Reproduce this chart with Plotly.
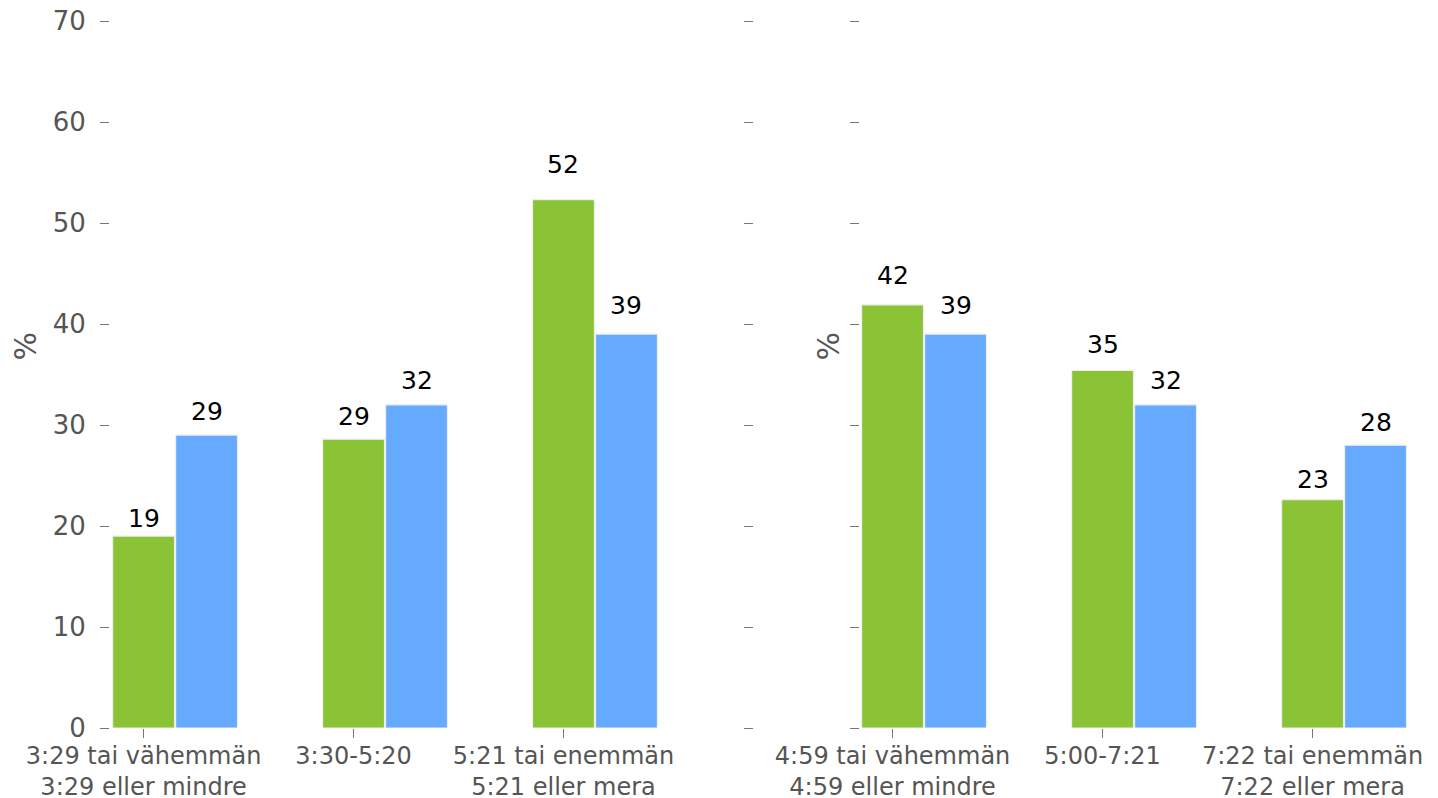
import plotly.graph_objects as go

categories_left = ["3:29 tai vähemmän<br>3:29 eller mindre", "3:30-5:20", "5:21 tai enemmän<br>5:21 eller mera"]
categories_right = ["4:59 tai vähemmän<br>4:59 eller mindre", "5:00-7:21", "7:22 tai enemmän<br>7:22 eller mera"]
green_left = [19.0, 28.6, 52.3]
blue_left = [29.0, 32.0, 39.0]
green_right = [41.9, 35.4, 22.6]
blue_right = [39.0, 32.0, 28.0]
y_ticks = [0, 10, 20, 30, 40, 50, 60, 70]

GREEN = "#8BC337"
BLUE = "#66AAFF"
TXT = "#555555"
FONT = "DejaVu Sans"
OFS = 8  # default page body margin
W = 1438 - OFS
H = 798 - OFS
BW = 0.295
OFF = 0.3
LABEL_LIFT = 1.05

def px(x):
    return (x - OFS) / W

def py(y):
    return 1 - (y - OFS) / H

fig = go.Figure()

def add_group(cats, g, b, xa, ya):
    pos = list(range(len(cats)))
    fig.add_trace(go.Bar(x=pos, y=g, width=BW, marker=dict(color=GREEN, line=dict(color="#eeeeee", width=1.2)),
                         xaxis=xa, yaxis=ya, showlegend=False, hoverinfo="y"))
    fig.add_trace(go.Bar(x=[p + OFF for p in pos], y=b, width=BW, marker=dict(color=BLUE, line=dict(color="#eeeeee", width=1.2)),
                         xaxis=xa, yaxis=ya, showlegend=False, hoverinfo="y"))
    for xs, vals in ((pos, g), ([p + OFF for p in pos], b)):
        for p, v in zip(xs, vals):
            fig.add_annotation(x=p, y=v * LABEL_LIFT, xref=xa, yref=ya, text=f"{v:.0f}", showarrow=False,
                               xanchor="center", yanchor="bottom", yshift=-8,
                               font=dict(family=FONT, size=25, color="black"))

add_group(categories_left, green_left, blue_left, "x", "y")
add_group(categories_right, green_right, blue_right, "x2", "y2")

axis_common = dict(showgrid=False, zeroline=False, showline=False, ticks="outside", ticklen=9,
                   tickcolor="#777777", tickwidth=1, automargin=False, ticklabeloverflow="allow")
xfont = dict(family=FONT, size=24, color=TXT)
yfont = dict(family=FONT, size=26, color=TXT)

fig.update_layout(
    width=W, height=H, barmode="overlay", plot_bgcolor="white", paper_bgcolor="white",
    margin=dict(l=0, r=0, t=21 - OFS, b=798 - 728),
    xaxis=dict(axis_common, domain=[px(110), px(743)], range=[-0.16, 2.855], tickfont=xfont,
               tickvals=list(range(len(categories_left))), ticktext=categories_left, anchor="y",
               ticklabelstandoff=-3),
    yaxis=dict(axis_common, range=[0, 70], tickvals=y_ticks, anchor="x", mirror="ticks",
               tickfont=yfont, ticklabelstandoff=9),
    xaxis2=dict(axis_common, domain=[px(860), px(1410)], range=[-0.155, 2.464], tickfont=xfont,
                tickvals=list(range(len(categories_right))), ticktext=categories_right, anchor="y2",
                ticklabelstandoff=-3),
    yaxis2=dict(axis_common, range=[0, 70], tickvals=y_ticks, anchor="x2", showticklabels=False),
)

for xp in (25, 828):
    fig.add_annotation(x=px(xp), y=py(347), xref="paper", yref="paper", text="%", textangle=-90,
                       xanchor="center", yanchor="middle", yshift=-22, showarrow=False,
                       font=dict(family=FONT, size=30, color=TXT))

fig.write_html("out.html")
